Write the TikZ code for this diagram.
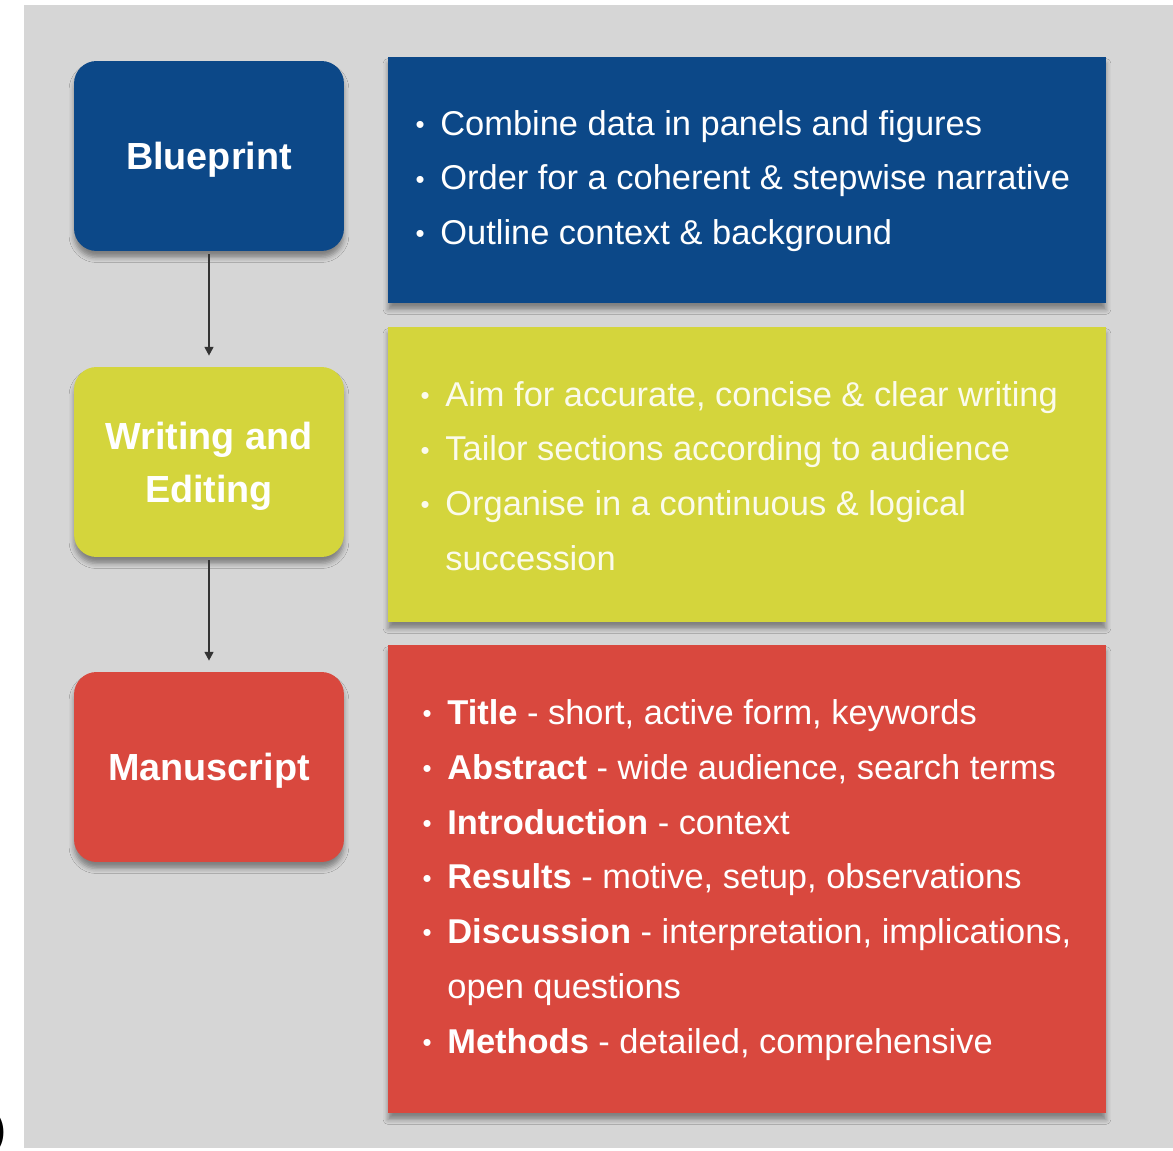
\documentclass[tikz,border=0pt]{standalone}
\usepackage{fontspec}
\setmainfont{Liberation Sans}
\usetikzlibrary{arrows.meta,shadows.blur}

\definecolor{bpblue}{RGB}{12,72,136}
\definecolor{weyellow}{RGB}{212,213,60}
\definecolor{msred}{RGB}{217,72,62}
\definecolor{backgrey}{RGB}{214,214,214}
\newcommand{\itm}{\makebox[0pt][r]{\raisebox{.1ex}{\scalebox{.75}{\textbullet}}\hspace{9pt}}}

\begin{document}
\begin{tikzpicture}[x=0.02cm,y=-0.02cm,
  soft/.style={blur shadow={shadow xshift=0cm,shadow yshift=-0.13cm,shadow blur radius=0.1cm,shadow opacity=40}},
  stage/.style={soft,rounded corners=0.45cm,minimum width=5.4cm,minimum height=3.8cm,text depth=0pt,
    text=white,align=center,font=\bfseries\fontsize{21.5}{30}\selectfont},
  panel/.style={soft,minimum width=14.36cm},
  points/.style={anchor=west,inner sep=0pt,align=left,text=white,font=\fontsize{19.6}{31.2}\selectfont},
  flow/.style={line width=1.1pt,draw=black!80,-{Triangle[length=5pt,width=5pt]},shorten >=0.22cm,shorten <=0.06cm}]
\useasboundingbox (0,0) rectangle (1173,1151);
\fill[backgrey] (24,5) rectangle (1173,1148);
\node[anchor=base east,inner sep=0pt,font=\fontsize{26}{26}\selectfont] (cut) at (7,1144) {)};

\node[stage,fill=bpblue] (blueprint) at (209,156) {Blueprint};
\node[stage,fill=weyellow] (writing) at (209,462) {Writing and\\Editing};
\node[stage,fill=msred] (manuscript) at (209,767) {Manuscript};
\draw[flow] (blueprint) -- (writing);
\draw[flow] (writing) -- (manuscript);

\node[panel,fill=bpblue,minimum height=4.92cm] (bp-panel) at (747,180) {};
\node[panel,fill=weyellow,minimum height=5.9cm] (we-panel) at (747,474.5) {};
\node[panel,fill=msred,minimum height=9.36cm] (ms-panel) at (747,879) {};

\node[points] (bp-list) at (440,181) {\itm Combine data in panels and figures\\
  \itm Order for a coherent \& stepwise narrative\\
  \itm Outline context \& background};
\node[points,text=white!90!weyellow] (we-list) at (445,476) {\itm Aim for accurate, concise \& clear writing\\
  \itm Tailor sections according to audience\\
  \itm Organise in a continuous \& logical\\
  succession};
\node[points] (ms-list) at (447,880) {\itm \textbf{Title} - short, active form, keywords\\
  \itm \textbf{Abstract} - wide audience, search terms\\
  \itm \textbf{Introduction} - context\\
  \itm \textbf{Results} - motive, setup, observations\\
  \itm \textbf{Discussion} - interpretation, implications,\\
  open questions\\
  \itm \textbf{Methods} - detailed, comprehensive};
\end{tikzpicture}
\end{document}
